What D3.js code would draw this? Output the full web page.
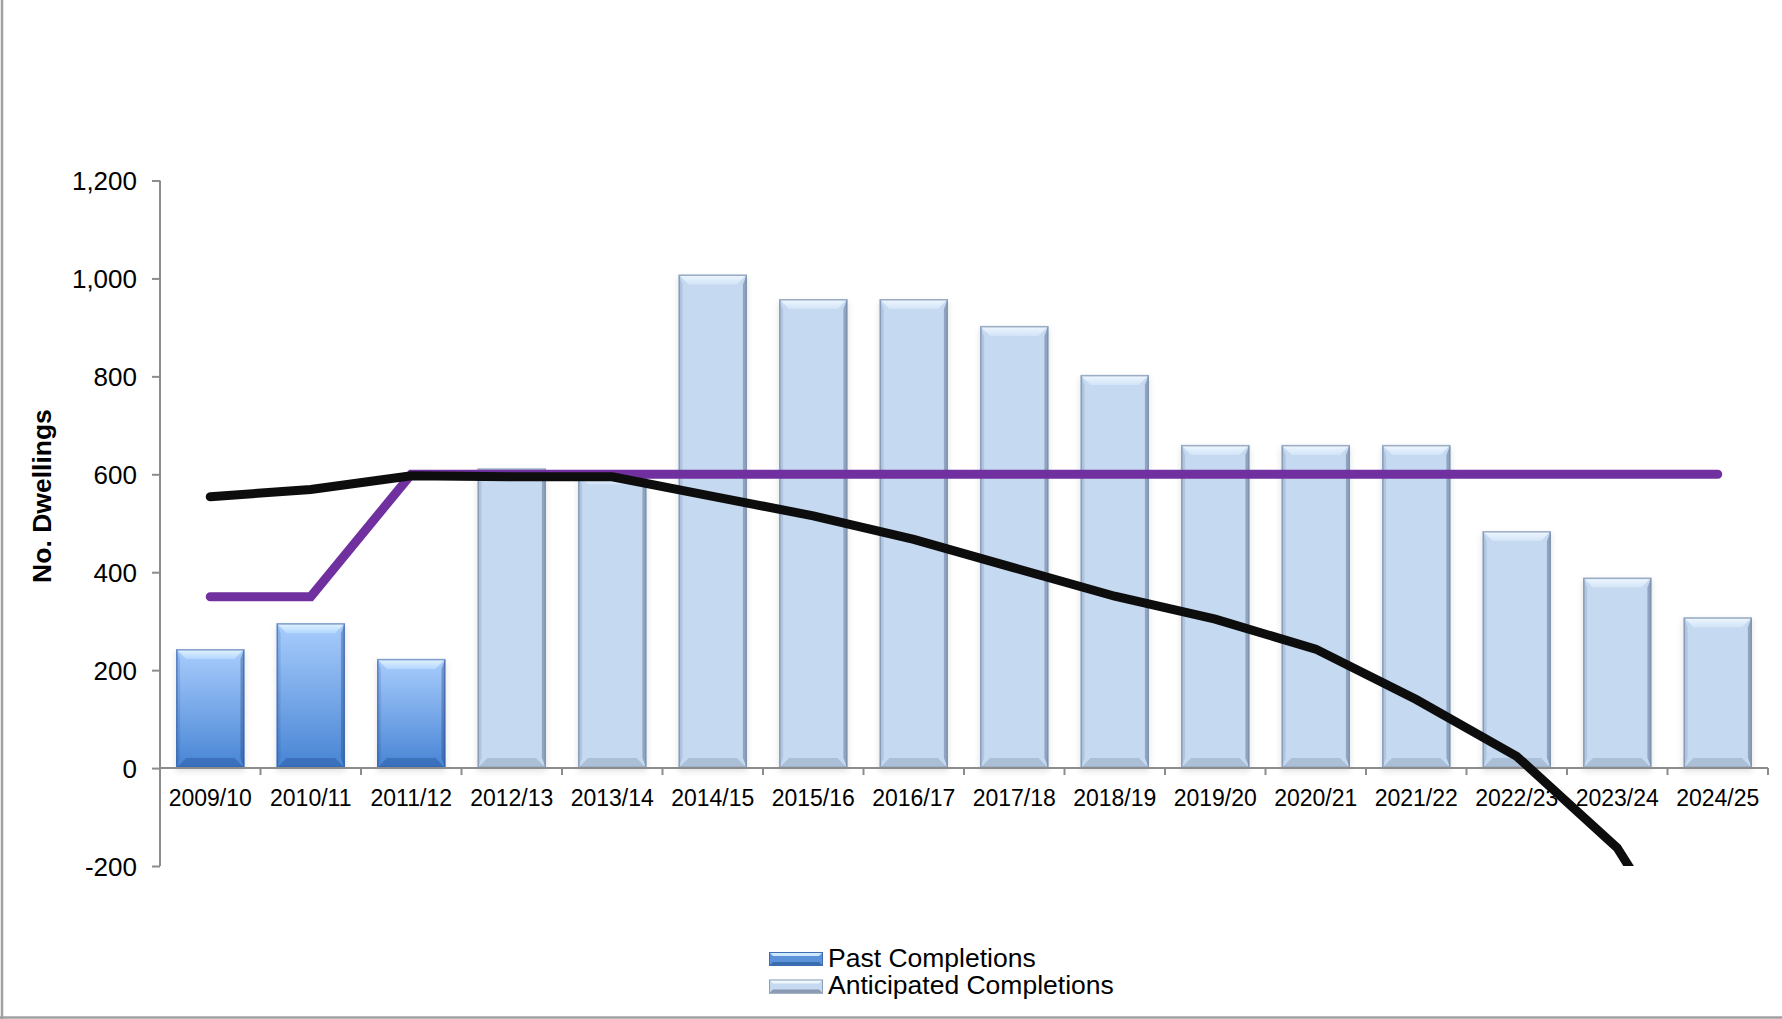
<!DOCTYPE html>
<html><head><meta charset="utf-8">
<script src="https://cdn.jsdelivr.net/npm/d3@7"></script>
<style>html,body{margin:0;padding:0;background:#fff;}svg{display:block;font-family:Arial,"Liberation Sans",sans-serif;}</style>
</head><body><svg id="c" width="1782" height="1019"></svg>
<script>
const categories = ["2009/10","2010/11","2011/12","2012/13","2013/14","2014/15","2015/16","2016/17","2017/18","2018/19","2019/20","2020/21","2021/22","2022/23","2023/24","2024/25"];
const pastCompletions = [243, 296, 223, null, null, null, null, null, null, null, null, null, null, null, null, null];
const anticipatedCompletions = [null, null, null, 612, 600, 1008, 958, 958, 903, 803, 660, 660, 660, 484, 389, 308];
const purpleLine = [350, 350, 600, 600, 600, 600, 600, 600, 600, 600, 600, 600, 600, 600, 600, 600];
const blackLine = [554, 569, 597, 595, 595, 555, 515, 467, 409, 351, 304, 243, 140, 24, -163, -490];
const yTicks = [-200, 0, 200, 400, 600, 800, 1000, 1200];
const legendLabels = ["Past Completions", "Anticipated Completions"];

const svg = d3.select("#c");
const x = d3.scaleBand().domain(categories).range([160, 1768]).paddingInner(0).paddingOuter(0);
const y = d3.scaleLinear().domain([-200, 1200]).range([866, 180.5]);
const barW = x.bandwidth() * 0.68;

const defs = svg.append("defs");
const gPast = defs.append("linearGradient").attr("id","gPast").attr("x1",0).attr("y1",0).attr("x2",0).attr("y2",1);
gPast.append("stop").attr("offset","0%").attr("stop-color","#a9cdfd");
gPast.append("stop").attr("offset","100%").attr("stop-color","#4784d4");
const gPastTop = defs.append("linearGradient").attr("id","gPastTop").attr("x1",0).attr("y1",0).attr("x2",0).attr("y2",1);
gPastTop.append("stop").attr("offset","0%").attr("stop-color","#e4f4ff");
gPastTop.append("stop").attr("offset","100%").attr("stop-color","#b3d7ff");
const gAntTop = defs.append("linearGradient").attr("id","gAntTop").attr("x1",0).attr("y1",0).attr("x2",0).attr("y2",1);
gAntTop.append("stop").attr("offset","0%").attr("stop-color","#f0f8ff");
gAntTop.append("stop").attr("offset","100%").attr("stop-color","#d2e4f7");
const sh = defs.append("filter").attr("id","sh").attr("x","-20%").attr("y","-5%").attr("width","140%").attr("height","115%");
sh.append("feDropShadow").attr("dx",0).attr("dy",3).attr("stdDeviation",3).attr("flood-color","#000").attr("flood-opacity",0.12);
defs.append("clipPath").attr("id","plotClip").append("rect").attr("x",160).attr("y",180).attr("width",1610).attr("height",686);

// frame (left and bottom visible)
svg.append("line").attr("x1",2).attr("x2",2).attr("y1",0).attr("y2",1019).attr("stroke","#a0a0a0").attr("stroke-width",2.5);
svg.append("line").attr("x1",0).attr("x2",1782).attr("y1",1017.5).attr("y2",1017.5).attr("stroke","#a0a0a0").attr("stroke-width",2.5);

function bevelBar(g, x0, y0, w, h, style){
  const b = Math.min(10, h/2), s = 4;
  const grp = g.append("g").attr("filter","url(#sh)");
  grp.append("rect").attr("x",x0).attr("y",y0).attr("width",w).attr("height",h).attr("fill",style.face);
  grp.append("polygon").attr("points",[[x0,y0],[x0+s,y0+b],[x0+s,y0+h-b],[x0,y0+h]].join(" ")).attr("fill",style.left);
  grp.append("polygon").attr("points",[[x0+w,y0],[x0+w-s,y0+b],[x0+w-s,y0+h-b],[x0+w,y0+h]].join(" ")).attr("fill",style.right);
  grp.append("polygon").attr("points",[[x0,y0],[x0+w,y0],[x0+w-b,y0+b],[x0+b,y0+b]].join(" ")).attr("fill",style.top);
  grp.append("polygon").attr("points",[[x0,y0+h],[x0+w,y0+h],[x0+w-b,y0+h-b],[x0+b,y0+h-b]].join(" ")).attr("fill",style.bottom);
  grp.append("rect").attr("x",x0+0.75).attr("y",y0+0.75).attr("width",w-1.5).attr("height",h-1.5).attr("fill","none").attr("stroke",style.edge).attr("stroke-width",1.5);
}
const pastStyle = {face:"url(#gPast)", left:"rgba(40,80,150,0.18)", right:"rgba(30,60,120,0.35)", top:"url(#gPastTop)", bottom:"rgba(30,70,140,0.35)", edge:"rgba(50,90,160,0.55)"};
const antStyle = {face:"#c5d9f1", left:"rgba(120,140,170,0.25)", right:"rgba(100,120,150,0.55)", top:"url(#gAntTop)", bottom:"rgba(140,160,185,0.45)", edge:"rgba(120,140,170,0.7)"};

const barsG = svg.append("g");
categories.forEach((c,i)=>{
  const xc = x(c) + x.bandwidth()/2;
  if (pastCompletions[i] != null){
    bevelBar(barsG, xc-barW/2, y(pastCompletions[i]), barW, y(0)-y(pastCompletions[i]), pastStyle);
  }
  if (anticipatedCompletions[i] != null){
    bevelBar(barsG, xc-barW/2, y(anticipatedCompletions[i]), barW, y(0)-y(anticipatedCompletions[i]), antStyle);
  }
});

// axes
const axisColor = "#8c8c8c";
const fmt = d3.format(",");
const yAxis = svg.append("g").attr("transform","translate(160,0)")
  .call(d3.axisLeft(y).tickValues(yTicks).tickSize(8).tickPadding(6).tickFormat(d => fmt(d).replace("\u2212","-")));
yAxis.select(".domain").attr("stroke",axisColor).attr("stroke-width",2).attr("d","M0,180.5V866");
yAxis.selectAll(".tick line").attr("stroke",axisColor).attr("stroke-width",2);
yAxis.selectAll(".tick text").attr("font-size","26px").attr("fill","#000").attr("font-family","Arial,'Liberation Sans',sans-serif").attr("dy","0.36em").attr("x",-23);

const xAxisG = svg.append("g").attr("transform",`translate(0,${y(0)})`);
xAxisG.append("line").attr("x1",160).attr("x2",1768).attr("stroke",axisColor).attr("stroke-width",2);
const bounds = categories.map(c=>x(c)).concat([x.range()[1]]);
xAxisG.selectAll("line.tk").data(bounds.slice(1)).enter().append("line").attr("class","tk")
  .attr("x1",d=>d).attr("x2",d=>d).attr("y1",0).attr("y2",7).attr("stroke",axisColor).attr("stroke-width",2);
xAxisG.selectAll("text").data(categories).enter().append("text")
  .attr("x",d=>x(d)+x.bandwidth()/2).attr("y",806-y(0)).attr("text-anchor","middle")
  .attr("font-size","23px").attr("fill","#000").text(d=>d);

// lines
const lineGen = d3.line().x((d,i)=>x(categories[i])+x.bandwidth()/2).y(d=>y(d));
const linesG = svg.append("g").attr("clip-path","url(#plotClip)");
linesG.append("path").datum(purpleLine).attr("d",lineGen).attr("fill","none").attr("stroke","#7030a0").attr("stroke-width",9).attr("stroke-linecap","round").attr("stroke-linejoin","miter");
linesG.append("path").datum(blackLine).attr("d",lineGen).attr("fill","none").attr("stroke","#0d0d0d").attr("stroke-width",9).attr("stroke-linecap","round").attr("stroke-linejoin","miter");

// y title
svg.append("text").attr("transform","translate(42,496) rotate(-90)").attr("text-anchor","middle").attr("dominant-baseline","central")
  .attr("font-size","26.5px").attr("font-weight","bold").attr("fill","#000").text("No. Dwellings");

// legend
const legG = svg.append("g");
function bevelBarLegend(g, x0, y0, w, h, i){
  const b = 4;
  g.append("rect").attr("x",x0).attr("y",y0).attr("width",w).attr("height",h).attr("fill", i===0 ? "#5b92da" : "#c5d9f1");
  g.append("polygon").attr("points",[[x0,y0],[x0+w,y0],[x0+w-b,y0+b],[x0+b,y0+b]].join(" ")).attr("fill", i===0 ? "#cfe9ff" : "#f0f8ff");
  g.append("polygon").attr("points",[[x0,y0+h],[x0+w,y0+h],[x0+w-b,y0+h-b],[x0+b,y0+h-b]].join(" ")).attr("fill", i===0 ? "#3a6db0" : "#8a9ab0");
  g.append("rect").attr("x",x0+0.5).attr("y",y0+0.5).attr("width",w-1).attr("height",h-1).attr("fill","none").attr("stroke", i===0 ? "#3d6fb2" : "#8e9fb6").attr("stroke-width",1);
}
legendLabels.forEach((t,i)=>{
  const yy = 952 + i*27.5;
  bevelBarLegend(legG, 769, yy, 54, 14, i);
  legG.append("text").attr("x",828).attr("y",yy+14.5).attr("font-size","26.5px").attr("fill","#000").text(t);
});
</script></body></html>
